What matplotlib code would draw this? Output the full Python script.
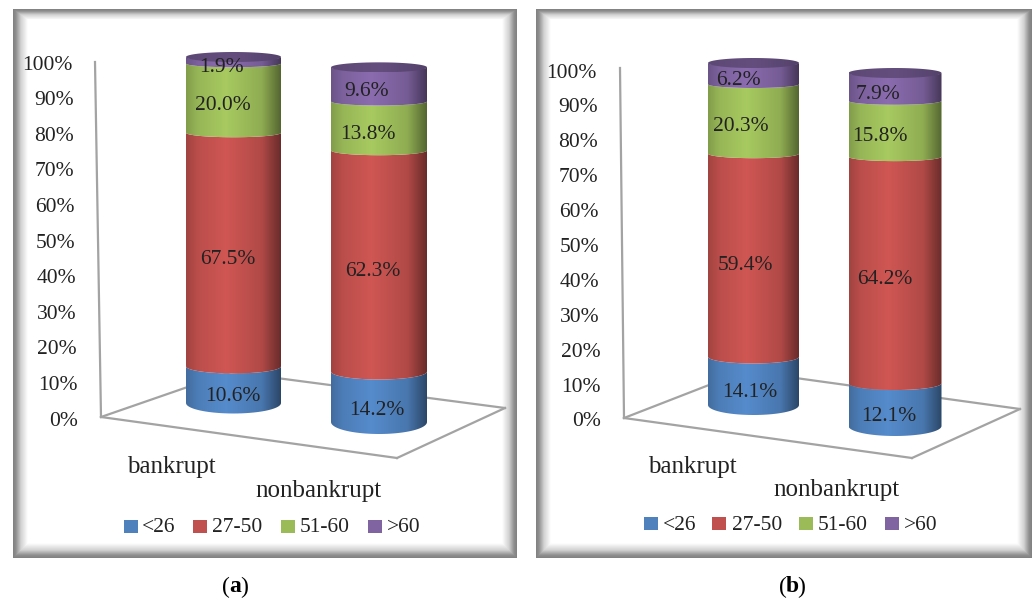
import numpy as np
import matplotlib
matplotlib.use('Agg')
import matplotlib.pyplot as plt
from matplotlib.patches import Rectangle, PathPatch
from matplotlib.path import Path
from matplotlib.colors import to_rgb

# values
age_groups = ['<26', '27-50', '51-60', '>60']
tick_values = [0, 10, 20, 30, 40, 50, 60, 70, 80, 90, 100]
bankrupt_a = [10.6, 67.5, 20.0, 1.9]
nonbankrupt_a = [14.2, 62.3, 13.8, 9.6]
bankrupt_b = [14.1, 59.4, 20.3, 6.2]
nonbankrupt_b = [12.1, 64.2, 15.8, 7.9]

colors = ['#4F81BD', '#C0504D', '#9BBB59', '#8064A2']
grey = '#a3a3a3'
ink = '#222222'

plt.rcParams['font.family'] = ['Liberation Serif', 'DejaVu Serif']

# layout of each panel in pixels, x, base y, y of 100%, half-ellipse heights
panel_a = dict(frame=(13, 9, 517, 558), letter='a', letter_x=235,
               axis=((95, 62), (101, 417)), ticks=((73, 65), (78, 421)),
               floor=((101, 417), (231, 372), (505, 408), (397, 458)),
               bars=[(233.5, 95, 403, 57, 10.5, 5, bankrupt_a, 0),
                     (379, 96, 422, 67, 12, 5, nonbankrupt_a, -1)],
               cats=[('bankrupt', 171, 467), ('nonbankrupt', 318, 491)],
               legend_y=528, legend_sq=[124, 193, 281, 368], legend_txt=[142, 212, 300, 387])
panel_b = dict(frame=(536, 9, 1032, 558), letter='b', letter_x=792,
               axis=((620, 68), (624, 418)), ticks=((597, 73), (601, 422)),
               floor=((624, 418), (745, 371), (1020, 409), (912, 458)),
               bars=[(753.5, 91, 405, 63, 10, 5, bankrupt_b, -3),
                     (895, 93, 426, 73, 10, 5, nonbankrupt_b, -5)],
               cats=[('bankrupt', 692, 467), ('nonbankrupt', 836, 490)],
               legend_y=525, legend_sq=[644, 712, 799, 885], legend_txt=[663, 732, 818, 904])

fig = plt.figure(figsize=(10.35, 6.01), dpi=100)
ax = fig.add_axes([0, 0, 1, 1])


def draw_frame(box):
    x0, y0, x1, y1 = box
    xs = np.arange(x0, x1) + 0.5
    ys = np.arange(y0, y1) + 0.5
    xx, yy = np.meshgrid(xs, ys)
    d = np.minimum.reduce([xx - x0, x1 - xx, (yy - y0) * 1.4, y1 - yy])
    shade = np.interp(d, [0, 3, 8, 15], [0.5, 0.56, 0.82, 1.0])
    ax.imshow(shade, cmap='gray', vmin=0, vmax=1, extent=(x0, x1, y1, y0), aspect='auto', zorder=1)


def shaded(path, color, x0, x1, ylo, yhi, stops, factors, z):
    patch = PathPatch(path, fc='none', ec='none', zorder=z)
    ax.add_patch(patch)
    t = np.linspace(0, 1, 120)
    row = np.clip(np.outer(np.interp(t, stops, factors), to_rgb(color)), 0, 1)
    im = ax.imshow(row[np.newaxis, :, :], extent=(x0, x1, ylo, yhi), aspect='auto', zorder=z)
    im.set_clip_path(patch)


def draw_bar(cx, w, base, top, ry0, ry1, vals, lean):
    theta = np.linspace(0, np.pi, 50)
    left, right = cx - w / 2, cx + w / 2
    radius = lambda f: ry0 + (ry1 - ry0) * f
    level = lambda f: base + (top - base) * f
    stops = [0, 0.12, 0.42, 0.8, 1]
    factors = [0.84, 0.97, 1.08, 0.92, 0.55]

    edges = np.cumsum([0] + vals) / 100.0
    for i, val in enumerate(vals):
        lo, hi = edges[i], edges[i + 1]
        # the inner joins look flatter than the foot of the cylinder
        rlo = radius(lo) * (1 if i == 0 else 0.72)
        rhi = radius(hi) * 0.72
        xs = cx - w / 2 * np.cos(theta)
        ylo = level(lo) + rlo * np.sin(theta)
        yhi = level(hi) + rhi * np.sin(theta)
        verts = np.vstack([np.column_stack([xs, ylo]), np.column_stack([xs[::-1], yhi[::-1]])])
        shaded(Path(verts, closed=False), colors[i], left, right, ylo.max() + 1, yhi.min() - 1,
               stops, factors, 3 + i * 0.1)

    # lid
    hi = edges[-1]
    t = np.linspace(0, 2 * np.pi, 100)
    lid = np.column_stack([cx + w / 2 * np.cos(t), level(hi) + radius(hi) * np.sin(t)])
    shaded(Path(lid), colors[3], left, right, level(hi) + radius(hi), level(hi) - radius(hi),
           [0, 0.5, 1], [0.72, 0.78, 0.66], 4)

    for i, val in enumerate(vals):
        mid = (edges[i] + edges[i + 1]) / 2
        ax.text(cx + lean - 12 * mid, level(mid) + radius(mid) + 2, '%.1f%%' % val, ha='center', va='center',
                fontsize=15.5, color=ink, zorder=6)


def draw_panel(p):
    draw_frame(p['frame'])

    (ax0, ay0), (ax1, ay1) = p['axis']
    ax.plot([ax0, ax1], [ay0, ay1], color=grey, lw=1.6, zorder=2)
    a, back, b, front = p['floor']
    for s, e in [(a, back), (back, b), (b, front), (front, a)]:
        ax.plot([s[0], e[0]], [s[1], e[1]], color=grey, lw=1.6, zorder=2)

    (tx1, ty1), (tx0, ty0) = p['ticks']
    for v in tick_values:
        f = v / 100.0
        ax.text(tx0 + (tx1 - tx0) * f, ty0 + (ty1 - ty0) * f, '%d%%' % v, ha='right', va='center',
                fontsize=15.5, color=ink, zorder=6)

    for bar in p['bars']:
        draw_bar(*bar)

    for name, x, y in p['cats']:
        ax.text(x, y, name, ha='center', va='center', fontsize=18, color=ink, zorder=6)

    for i, name in enumerate(age_groups):
        y = p['legend_y']
        ax.add_patch(Rectangle((p['legend_sq'][i], y - 8.5), 14, 13, fc=colors[i], ec='none', zorder=6))
        ax.text(p['legend_txt'][i], y, name, ha='left', va='center', fontsize=15.5, color=ink, zorder=6)

    lx = p['letter_x']
    ax.text(lx - 5, 587, '(', ha='right', va='center', fontsize=17, color='black')
    ax.text(lx, 587, p['letter'], ha='center', va='center', fontsize=17, color='black', fontweight='bold')
    ax.text(lx + 5, 587, ')', ha='left', va='center', fontsize=17, color='black')


draw_panel(panel_a)
draw_panel(panel_b)

ax.set_xlim(0, 1035)
ax.set_ylim(601, 0)
ax.axis('off')

fig.savefig('out.png', dpi=100)
